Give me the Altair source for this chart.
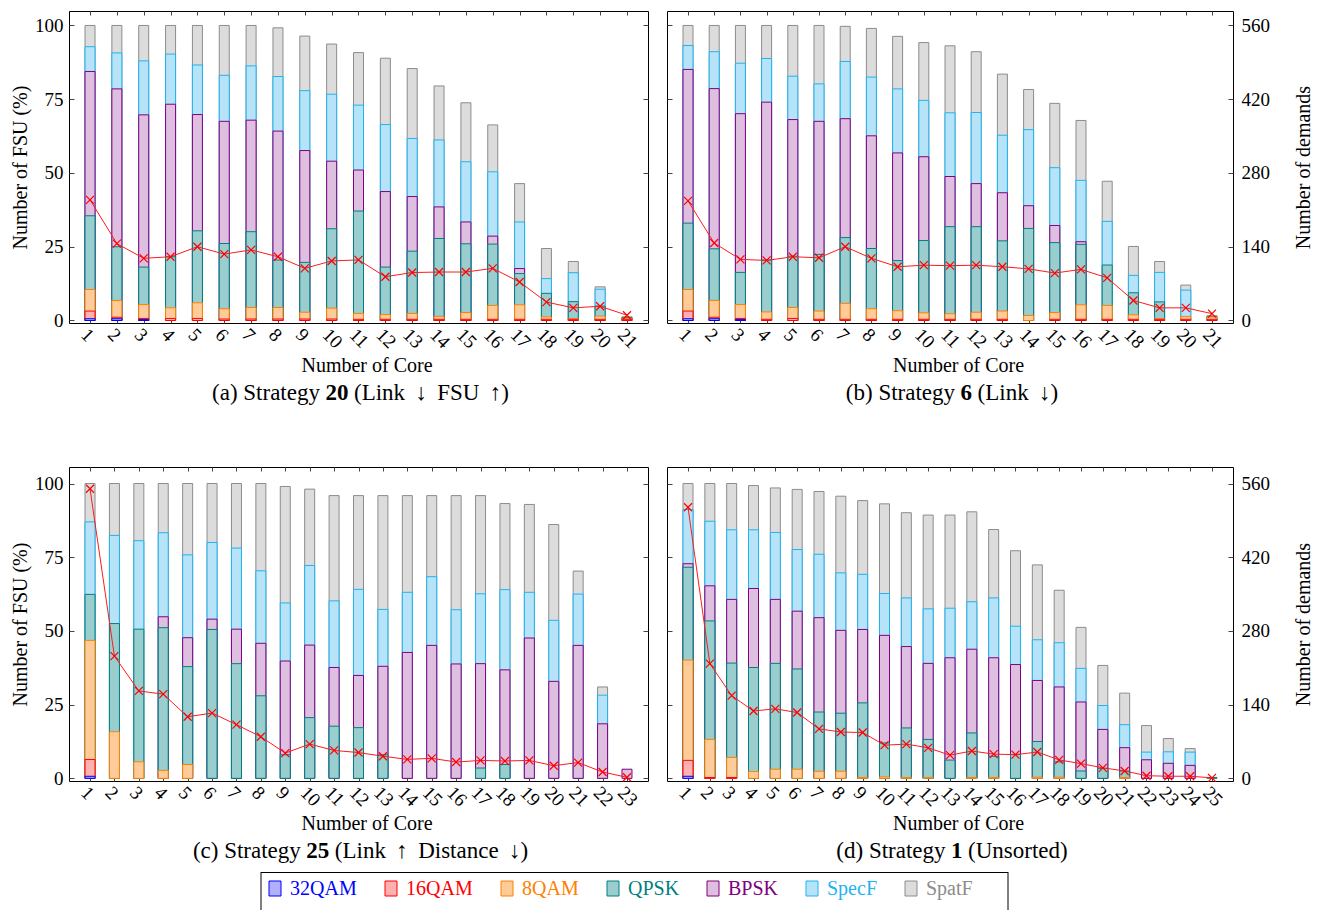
import altair as alt
import pandas as pd

FONT = "Liberation Serif"

SERIES = ["SpatF", "SpecF", "BPSK", "QPSK", "8QAM", "16QAM", "32QAM"]  # draw order (back to front)
FILLS = ["#dcdcdc", "#b6e3f8", "#dfbfdf", "#9acdcd", "#ffcc99", "#ffb0b0", "#b0b0ff"]
STROKES = ["#8c8c8c", "#1eb4f0", "#800080", "#008080", "#ff8000", "#ff0000", "#0000ff"]
LEGEND_ORDER = ["32QAM", "16QAM", "8QAM", "QPSK", "BPSK", "SpecF", "SpatF"]
LEGEND_TEXT = ["#0000ff", "#ff0000", "#ff8000", "#008080", "#800080", "#1eb4f0", "#8c8c8c"]
N = None

# ---------------- (a) Strategy 20 ----------------
A_SPATF = [100, 100, 100, 100, 100, 100, 100, 99.2, 96.4, 93.7, 90.8, 88.9, 85.4, 79.5, 73.8, 66.3, 46.4, 24.4, 20.0, 11.4, 1.2]
A_SPECF = [92.8, 90.7, 88.0, 90.3, 86.6, 83.1, 86.3, 82.7, 77.9, 76.7, 73.0, 66.4, 61.7, 61.2, 53.8, 50.4, 33.4, 14.2, 16.2, 10.6, 1.1]
A_BPSK = [84.4, 78.5, 69.7, 73.3, 69.8, 67.5, 67.9, 64.2, 57.6, 54.0, 51.0, 43.7, 42.0, 38.5, 33.4, 28.6, 17.6, N, N, N, N]
A_QPSK = [35.5, 25.0, 18.1, 21.6, 30.4, 26.1, 30.1, 20.5, 19.7, 31.1, 37.1, 18.1, 23.5, 27.8, 26.0, 25.9, 15.9, 9.2, 6.4, 4.9, 1.0]
A_8QAM = [10.5, 6.8, 5.4, 4.3, 6.0, 4.0, 4.4, 4.4, 2.8, 4.2, 2.4, 2.0, 2.4, 1.4, 2.7, 5.1, 5.3, 1.2, 0.6, 1.5, 0.8]
A_16QAM = [3.2, 1.1, 0.7, 0.7, 0.7, 0.5, 0.5, 0.5, 0.5, 0.5, 0.4, 0.4, 0.4, 0.4, 0.4, 0.4, 0.4, 0.4, 0.4, 0.4, 0.4]
A_32QAM = [0.6, 0.6, 0.3, N, N, N, N, N, N, N, N, N, N, N, N, N, N, N, N, N, N]
A_DEMANDS = [229, 146, 118, 121, 140, 126, 134, 121, 99, 113, 115, 83, 91, 92, 92, 99, 73, 35, 24, 27, 10]

# ---------------- (b) Strategy 6 ----------------
B_SPATF = [100, 100, 100, 100, 100, 100, 99.7, 99.0, 96.3, 94.2, 93.1, 91.1, 83.5, 78.3, 73.6, 67.8, 47.2, 25.1, 20.0, 12.0, 1.6]
B_SPECF = [93.2, 91.1, 87.2, 88.8, 82.8, 80.2, 87.8, 82.5, 78.5, 74.6, 70.4, 70.5, 62.8, 64.7, 51.8, 47.5, 33.6, 15.3, 16.3, 10.3, N]
B_BPSK = [85.1, 78.6, 70.1, 74.0, 68.1, 67.5, 68.4, 62.6, 56.8, 55.5, 48.8, 46.4, 43.3, 38.9, 32.2, 26.7, N, N, N, N, N]
B_QPSK = [33.0, 24.3, 16.3, 20.5, 21.8, 22.4, 28.1, 24.4, 20.3, 27.1, 31.8, 31.8, 27.0, 31.2, 26.4, 25.8, 18.8, 9.4, 6.3, N, 1.4]
B_8QAM = [10.5, 6.8, 5.4, 2.9, 4.4, 3.2, 5.8, 4.0, 3.3, 2.6, 2.3, 2.8, 3.2, 1.7, 2.7, 5.3, 5.1, 1.9, 0.6, 1.4, 1.2]
B_16QAM = [3.2, 1.1, 0.7, 0.4, 0.7, 0.4, 0.4, 0.4, 0.4, 0.4, 0.4, 0.4, 0.4, N, 0.4, 0.4, 0.4, 0.4, 0.4, 0.4, 0.4]
B_32QAM = [0.6, 0.6, 0.3, N, N, N, N, N, N, N, N, N, N, N, N, N, N, N, N, N, N]
B_DEMANDS = [227, 147, 116, 114, 121, 119, 140, 118, 102, 105, 104, 105, 102, 98, 90, 97, 81, 38, 24, 24, 13]

# ---------------- (c) Strategy 25 ----------------
C_SPATF = [100, 100, 100, 100, 100, 100, 100, 100, 99.0, 98.1, 95.9, 95.9, 95.9, 95.9, 95.9, 95.9, 95.9, 93.2, 92.9, 86.1, 70.3, 31.0, N]
C_SPECF = [87.0, 82.4, 80.6, 83.3, 75.8, 80.0, 78.1, 70.4, 59.5, 72.2, 60.2, 64.1, 57.3, 63.1, 68.4, 57.2, 62.6, 64.0, 63.1, 53.6, 62.5, 28.2, N]
C_BPSK = [N, N, N, 54.8, 47.7, 54.0, 50.6, 45.8, 39.8, 45.2, 37.6, 34.9, 38.0, 42.7, 45.1, 38.8, 38.9, 36.8, 47.6, 32.9, 45.1, 18.5, 3.1]
C_QPSK = [62.4, 52.5, 50.6, 51.1, 37.9, 50.5, 38.9, 28.0, 8.0, 20.6, 17.7, 17.2, 8.0, N, N, N, 3.5, 4.7, N, N, N, N, N]
C_8QAM = [46.8, 15.8, 5.6, 2.7, 4.7, N, N, N, N, N, N, N, N, N, N, N, N, N, N, N, N, N, N]
C_16QAM = [6.4, N, N, N, N, N, N, N, N, N, N, N, N, N, N, N, N, N, N, N, N, N, N]
C_32QAM = [0.7, N, N, N, N, N, N, N, N, N, N, N, N, N, N, N, N, N, N, N, N, N, N]
C_DEMANDS = [550, 232, 166, 160, 117, 124, 102, 79, 48, 65, 53, 49, 42, 36, 38, 31, 34, 33, 34, 24, 30, 12, 2]

# ---------------- (d) Strategy 1 ----------------
D_SPATF = [100, 100, 100, 99.3, 98.5, 98.0, 97.3, 95.7, 94.2, 93.1, 90.1, 89.3, 89.3, 90.4, 84.4, 77.2, 72.4, 63.8, 51.2, 38.3, 28.9, 17.9, 13.5, 10.1, N]
D_SPECF = [91.2, 87.2, 84.3, 84.3, 83.4, 77.6, 76.0, 69.7, 69.2, 62.7, 61.2, 57.5, 57.7, 59.9, 61.2, 51.6, 47.0, 46.0, 37.3, 24.7, 18.2, 8.9, 9.0, 8.9, N]
D_BPSK = [72.8, 65.3, 60.7, 64.4, 60.7, 56.7, 54.5, 50.2, 50.5, 48.5, 44.7, 39.0, 40.9, 43.8, 40.9, 38.6, 33.2, 31.0, 25.9, 16.6, 10.4, 6.3, 5.1, 4.4, N]
D_QPSK = [71.6, 53.4, 39.1, 37.6, 39.0, 37.1, 22.5, 22.1, 25.6, 12.0, 17.1, 13.2, 6.2, 15.4, 7.5, 8.1, 12.5, 5.6, 2.5, 3.4, 2.5, N, N, N, 0.3]
D_8QAM = [40.1, 13.2, 7.1, 2.3, 3.1, 3.1, 2.4, 2.4, 0.3, 0.5, 0.3, 0.3, N, 0.3, 0.3, N, 0.4, 0.4, N, N, 0.3, N, N, N, N]
D_16QAM = [6.1, 0.3, 0.3, N, N, N, N, N, N, N, N, N, N, N, N, N, N, N, N, N, N, N, N, N, N]
D_32QAM = [0.7, N, N, N, N, N, N, N, N, N, N, N, N, N, N, N, N, N, N, N, N, N, N, N, N]
D_DEMANDS = [515, 218, 157, 128, 132, 125, 94, 88, 87, 63, 65, 58, 44, 52, 46, 45, 50, 35, 28, 20, 14, 5, 4, 4, 1]

Y_TICKS = [0, 25, 50, 75, 100]
D_TICKS = [0, 140, 280, 420, 560]
XPATH = "M-1,-1L1,1M-1,1L1,-1"

AX = dict(labelFont=FONT, titleFont=FONT, labelFontSize=19, titleFontSize=20,
          titleFontWeight="normal", labelColor="black", titleColor="black",
          tickColor="#444", tickWidth=1, grid=False)

# rough Times widths (em) for caption centering
_W = {" ": .25, "\u2009": .2, "(": .333, ")": .333, "i": .278, "t": .278, "l": .278, "f": .333,
      "r": .333, "a": .444, "c": .444, "e": .444, "s": .389, "L": .611, "S": .556, "F": .556,
      "U": .722, "D": .722}


def tw(s, fs):
    return sum(_W.get(ch, .5) for ch in s) * fs


def panel(tops, demands, W, H, ydom, left_labels, right_labels, cap):
    n = len(demands)
    pad = 16.3
    step = (W - 2 * pad) / (n - 1)
    xdom = [1 - pad / step, n + pad / step]
    rows = []
    for s, vals in zip(SERIES, tops):
        for i, v in enumerate(vals):
            if v is not None:
                rows.append({"core": i + 1, "mod": s, "top": v, "base": 0})
    bdf = pd.DataFrame(rows)
    ldf = pd.DataFrame({"core": list(range(1, n + 1)), "demands": demands})
    xs = alt.Scale(domain=xdom, nice=False, zero=False)
    ys = alt.Scale(domain=ydom, nice=False, zero=False)
    ds = alt.Scale(domain=[ydom[0] * 5.6, ydom[1] * 5.6], nice=False, zero=False)

    xaxis = alt.Axis(values=list(range(1, n + 1)), labelAngle=45, labelAlign="left",
                     labelBaseline="top", labelPadding=2, labelFlush=False, labelOverlap=False,
                     labelBound=False, domain=False, ticks=True, tickSize=4, offset=-4,
                     title="Number of Core", titlePadding=4, titleX=W / 2 + 8,
                     format="d", **AX)
    if left_labels:
        yaxis = alt.Axis(values=Y_TICKS, domain=False, tickSize=5, offset=-5, labelPadding=6,
                         title="Number of FSU (%)", titlePadding=4, **AX)
    else:
        yaxis = alt.Axis(values=Y_TICKS, domain=False, tickSize=5, offset=-5, labels=False,
                         title=None, **AX)
    if right_labels:
        raxis = alt.Axis(orient="right", values=D_TICKS, domain=False, tickSize=5, offset=-5,
                         labelPadding=8, title="Number of demands", titleAngle=270,
                         titlePadding=44, **AX)
    else:
        raxis = alt.Axis(orient="right", values=D_TICKS, domain=False, tickSize=5, offset=-5,
                         labels=False, title=None, **AX)

    bars = alt.Chart(bdf).mark_bar(size=10, strokeWidth=1).encode(
        x=alt.X("core:Q", scale=xs, axis=xaxis),
        y=alt.Y("top:Q", scale=ys, axis=yaxis, stack=None),
        y2="base:Q",
        fill=alt.Fill("mod:N", scale=alt.Scale(domain=SERIES, range=FILLS), legend=None),
        stroke=alt.Stroke("mod:N", scale=alt.Scale(domain=SERIES, range=STROKES), legend=None),
    )
    line = alt.Chart(ldf).mark_line(color="#ff1a1a", strokeWidth=1).encode(
        x=alt.X("core:Q", scale=xs,
                axis=alt.Axis(orient="top", values=list(range(1, n + 1)), labels=False,
                              domain=False, tickSize=4, offset=-4, title=None, **AX)),
        y=alt.Y("demands:Q", scale=ds, axis=raxis),
    )
    pts = alt.Chart(ldf).mark_point(shape=XPATH, size=64, color="#ff0000", strokeWidth=1.2,
                                    filled=False, opacity=1).encode(
        x=alt.X("core:Q", scale=xs, axis=None),
        y=alt.Y("demands:Q", scale=ds, axis=None),
    )
    pre, bold, post = cap
    cfs = 23
    gap = 5.5
    wb = tw(bold, cfs)
    total = tw(pre, cfs) + wb + tw(post, cfs) + 2 * gap
    cx = W / 2 + 2
    x0 = cx - total / 2
    xb = x0 + tw(pre, cfs) + gap
    cy = H + 70
    t1 = alt.Chart(pd.DataFrame({"t": [pre]})).mark_text(
        align="right", baseline="middle", font=FONT, fontSize=cfs, color="black").encode(
        x=alt.value(xb - gap), y=alt.value(cy), text="t:N")
    t2 = alt.Chart(pd.DataFrame({"t": [bold]})).mark_text(
        align="left", baseline="middle", font=FONT, fontSize=cfs, fontWeight="bold",
        color="black").encode(x=alt.value(xb), y=alt.value(cy), text="t:N")
    t3 = alt.Chart(pd.DataFrame({"t": [post]})).mark_text(
        align="left", baseline="middle", font=FONT, fontSize=cfs, color="black").encode(
        x=alt.value(xb + wb + gap), y=alt.value(cy), text="t:N")

    return alt.layer(bars, line, pts, t1, t2, t3).resolve_scale(
        y="independent").resolve_axis(x="independent", y="independent").properties(
        width=W, height=H)


WL, WR = 579, 566
H1, H2 = 312, 314
YD1 = [-0.85, 104.9]
YD2 = [-0.9, 105.6]
DN = "\u2009\u2193"
UP = "\u2009\u2191"

pa = panel([A_SPATF, A_SPECF, A_BPSK, A_QPSK, A_8QAM, A_16QAM, A_32QAM], A_DEMANDS, WL, H1, YD1,
           True, False, ("(a) Strategy", "20", "(Link " + DN + "\u2009 FSU " + UP + ")"))
pb = panel([B_SPATF, B_SPECF, B_BPSK, B_QPSK, B_8QAM, B_16QAM, B_32QAM], B_DEMANDS, WR, H1, YD1,
           False, True, ("(b) Strategy", "6", "(Link " + DN + ")"))
pc = panel([C_SPATF, C_SPECF, C_BPSK, C_QPSK, C_8QAM, C_16QAM, C_32QAM], C_DEMANDS, WL, H2, YD2,
           True, False, ("(c) Strategy", "25", "(Link " + UP + "\u2009 Distance " + DN + ")"))
pd_ = panel([D_SPATF, D_SPECF, D_BPSK, D_QPSK, D_8QAM, D_16QAM, D_32QAM], D_DEMANDS, WR, H2, YD2,
            False, True, ("(d) Strategy", "1", "(Unsorted)"))

row1 = alt.hconcat(pa, pb, spacing=17)
row2 = alt.hconcat(pc, pd_, spacing=17)
grid = alt.vconcat(row1, row2, spacing=60)

# ---------------- legend ----------------
LBOX_X0 = 192
LBOX_W = 747
LEG_SQ = [8, 124, 240, 346, 446, 545, 644]
leg_df = pd.DataFrame({
    "name": LEGEND_ORDER,
    "x0": [LBOX_X0 + v for v in LEG_SQ],
    "x1": [LBOX_X0 + v + 12 for v in LEG_SQ],
    "tx": [LBOX_X0 + v + 21 for v in LEG_SQ],
})
LW = 1100
lx = alt.Scale(domain=[0, LW], range=[0, LW], nice=False, zero=False)
sq = alt.Chart(leg_df).mark_rect(strokeWidth=1).encode(
    x=alt.X("x0:Q", scale=lx, axis=None), x2="x1:Q",
    y=alt.value(9), y2=alt.value(24),
    fill=alt.Fill("name:N", scale=alt.Scale(domain=SERIES, range=FILLS), legend=None),
    stroke=alt.Stroke("name:N", scale=alt.Scale(domain=SERIES, range=STROKES), legend=None),
)
txt = alt.Chart(leg_df).mark_text(align="left", baseline="middle", font=FONT, fontSize=20).encode(
    x=alt.X("tx:Q", scale=lx, axis=None), y=alt.value(17), text="name:N",
    color=alt.Color("name:N", scale=alt.Scale(domain=LEGEND_ORDER, range=LEGEND_TEXT), legend=None),
)
box_df = pd.DataFrame({"a": [0]})
top_rule = alt.Chart(box_df).mark_rule(color="black", strokeWidth=1).encode(
    x=alt.value(LBOX_X0), x2=alt.value(LBOX_X0 + LBOX_W), y=alt.value(0.5))
left_rule = alt.Chart(box_df).mark_rule(color="black", strokeWidth=1).encode(
    x=alt.value(LBOX_X0), y=alt.value(0), y2=alt.value(42))
right_rule = alt.Chart(box_df).mark_rule(color="black", strokeWidth=1).encode(
    x=alt.value(LBOX_X0 + LBOX_W), y=alt.value(0), y2=alt.value(42))
legend = alt.layer(top_rule, left_rule, right_rule, sq, txt).properties(
    width=LW, height=42, view=alt.ViewBackground(strokeOpacity=0))

chart = alt.vconcat(grid, legend, spacing=7).properties(
    padding={"left": 10, "top": 10, "right": 0, "bottom": 0}, background="white"
).configure(font=FONT).configure_view(stroke="black", strokeWidth=1).configure_axis(
    labelFont=FONT, titleFont=FONT)

chart.save("out.html", embed_options={"renderer": "svg", "actions": False})
